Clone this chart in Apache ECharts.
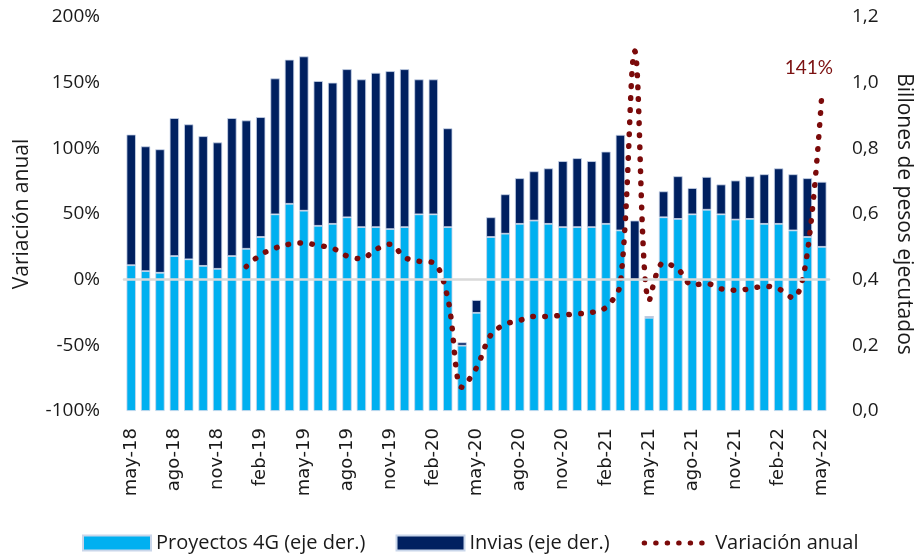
<!DOCTYPE html>
<html>
<head>
<meta charset="utf-8">
<script src="https://cdn.jsdelivr.net/npm/echarts@6/dist/echarts.min.js"></script>
<style>
html,body{margin:0;padding:0;background:#fff;}
#chart{width:915px;height:555px;}
</style>
</head>
<body>
<div id="chart"></div>
<script>
var categories = [
 'may-18','jun-18','jul-18','ago-18','sep-18','oct-18','nov-18','dic-18',
 'ene-19','feb-19','mar-19','abr-19','may-19','jun-19','jul-19','ago-19','sep-19','oct-19','nov-19','dic-19',
 'ene-20','feb-20','mar-20','abr-20','may-20','jun-20','jul-20','ago-20','sep-20','oct-20','nov-20','dic-20',
 'ene-21','feb-21','mar-21','abr-21','may-21','jun-21','jul-21','ago-21','sep-21','oct-21','nov-21','dic-21',
 'ene-22','feb-22','mar-22','abr-22','may-22'
];
var proyectos4G = [
 0.444,0.426,0.421,0.472,0.462,0.442,0.433,0.472,
 0.494,0.530,0.599,0.631,0.610,0.564,0.570,0.590,0.560,0.560,0.554,0.560,
 0.599,0.599,0.560,0.199,0.299,0.530,0.540,0.570,0.580,0.570,0.560,0.560,
 0.560,0.570,0.550,0.400,0.284,0.590,0.585,0.599,0.613,0.599,0.583,0.585,
 0.570,0.570,0.550,0.530,0.500
];
var invias = [
 0.398,0.380,0.376,0.420,0.411,0.395,0.385,0.420,
 0.391,0.365,0.414,0.439,0.470,0.441,0.430,0.451,0.450,0.470,0.481,0.481,
 0.411,0.411,0.301,0.010,0.039,0.060,0.120,0.139,0.150,0.169,0.201,0.210,
 0.201,0.220,0.291,0.180,0.005,0.079,0.130,0.080,0.100,0.091,0.119,0.130,
 0.151,0.169,0.171,0.179,0.198
];
var variacionAnual = [
 null,null,null,null,null,null,null,null,
 10,19,24,27,28,26,24,18,16,23,27,17,
 14,13,-14,-82,-67,-42,-34,-31,-28,-28,-27,-26,
 -25,-21,-3,174,-16,13,8,-4,-3,-7,-8,-7,
 -5,-7,-14,21,141
];
var leftTicks = { min: -100, max: 200, interval: 50 };
var rightTicks = { min: 0, max: 1.2, interval: 0.2 };
var lastLabel = '141%';

var txt = '#1a1a1a';
var lineColor = '#7b0a0a';
var lastIdx = variacionAnual.length - 1;

var chart = echarts.init(document.getElementById('chart'), null, { renderer: 'canvas' });
chart.setOption({
  animation: false,
  grid: { left: 124, right: 86, top: 17, bottom: 144, containLabel: false, outerBoundsMode: 'none' },
  legend: {
    left: 77, top: 528, itemGap: 30, itemWidth: 68, itemHeight: 15,
    textStyle: { fontFamily: 'Open Sans', fontSize: 20, color: txt },
    data: [
      { name: 'Proyectos 4G (eje der.)', icon: 'rect' },
      { name: 'Invias (eje der.)', icon: 'rect' },
      { name: 'Variación anual', itemStyle: { opacity: 0 },
        lineStyle: { color: lineColor, width: 5, type: [0.5, 11], cap: 'round', dashOffset: -2 } }
    ]
  },
  xAxis: {
    type: 'category', data: categories, z: 10,
    axisLine: { show: true, onZero: true, onZeroAxisIndex: 0, lineStyle: { color: '#d9d9d9', width: 2.5 } },
    axisTick: { show: false },
    axisLabel: { interval: 2, rotate: 90, margin: 17, fontFamily: 'DejaVu Sans', fontSize: 18, color: txt }
  },
  yAxis: [
    {
      type: 'value', min: leftTicks.min, max: leftTicks.max, interval: leftTicks.interval,
      name: 'Variación anual', nameLocation: 'middle', nameGap: 91, nameRotate: 90,
      nameTextStyle: { fontFamily: 'Open Sans', fontSize: 21, color: txt },
      axisLine: { show: false }, axisTick: { show: false }, splitLine: { show: false },
      axisLabel: { margin: 24, fontFamily: 'Open Sans', fontSize: 19, color: txt,
        formatter: function (v) { return v + '%'; } }
    },
    {
      type: 'value', min: rightTicks.min, max: rightTicks.max, interval: rightTicks.interval,
      name: 'Billones de pesos ejecutados', nameLocation: 'middle', nameGap: 64, nameRotate: -90,
      nameTextStyle: { fontFamily: 'Open Sans', fontSize: 21, color: txt },
      axisLine: { show: false }, axisTick: { show: false }, splitLine: { show: false },
      axisLabel: { margin: 23, fontFamily: 'Open Sans', fontSize: 19, color: txt,
        formatter: function (v) { return v.toFixed(1).replace('.', ','); } }
    }
  ],
  series: [
    {
      name: 'Proyectos 4G (eje der.)', type: 'bar', stack: 'tot', yAxisIndex: 1,
      barCategoryGap: '35%', data: proyectos4G,
      itemStyle: { color: '#00b0f0', borderColor: '#c9d6ea', borderWidth: 0.8 }
    },
    {
      name: 'Invias (eje der.)', type: 'bar', stack: 'tot', yAxisIndex: 1,
      barCategoryGap: '35%', data: invias,
      itemStyle: { color: '#002060', borderColor: '#c9d6ea', borderWidth: 0.8 }
    },
    {
      name: 'Variación anual', type: 'line', yAxisIndex: 0, z: 5,
      data: variacionAnual, smooth: 0.35, symbol: 'none', connectNulls: false,
      itemStyle: { color: lineColor },
      lineStyle: { color: lineColor, width: 5.5, type: [0.5, 11.5], cap: 'round' },
      markPoint: {
        symbol: 'circle', symbolSize: 1,
        itemStyle: { color: 'rgba(0,0,0,0)' },
        label: { show: true, formatter: lastLabel, position: 'top', offset: [-13, -12],
          color: '#7b1010', fontSize: 19, fontFamily: 'Lato' },
        data: [{ coord: [categories[lastIdx], variacionAnual[lastIdx]] }]
      }
    }
  ]
});
</script>
</body>
</html>
